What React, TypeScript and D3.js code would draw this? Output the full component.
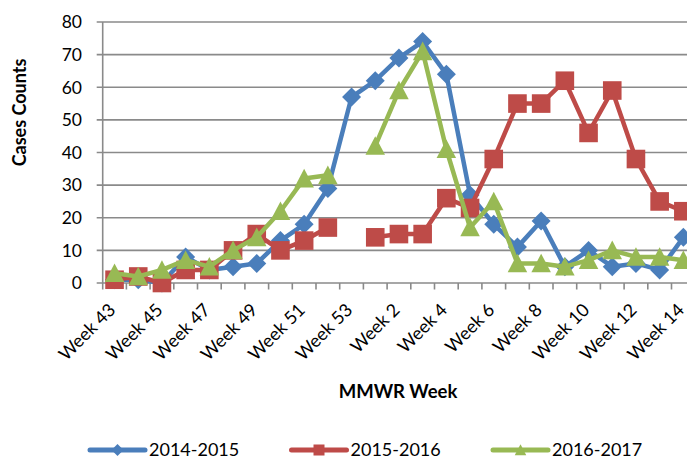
import React from "react";
import * as d3 from "d3";

const weeks: string[] = [
  "Week 43", "Week 44", "Week 45", "Week 46", "Week 47", "Week 48", "Week 49",
  "Week 50", "Week 51", "Week 52", "Week 53", "Week 1", "Week 2", "Week 3",
  "Week 4", "Week 5", "Week 6", "Week 7", "Week 8", "Week 9", "Week 10",
  "Week 11", "Week 12", "Week 13", "Week 14",
];

const season1415: (number | null)[] = [1, 1, 0, 8, 4, 5, 6, 13, 18, 29, 57, 62, 69, 74, 64, 27, 18, 11, 19, 5, 10, 5, 6, 4, 14];
const season1516: (number | null)[] = [1, 2, 0, 4, 4, 10, 15, 10, 13, 17, null, 14, 15, 15, 26, 23, 38, 55, 55, 62, 46, 59, 38, 25, 22];
const season1617: (number | null)[] = [3, 2, 4, 7, 5, 10, 14, 22, 32, 33, null, 42, 59, 71, 41, 17, 25, 6, 6, 5, 7, 10, 8, 8, 7];

const seriesNames: string[] = ["2014-2015", "2015-2016", "2016-2017"];
const yTicks: number[] = [0, 10, 20, 30, 40, 50, 60, 70, 80];

const W = 687;
const H = 460;
const FONT = "Lato, 'Noto Sans', sans-serif";
const colors = ["#4A7EBB", "#BE4B48", "#98B954"];

function marker(kind: number, cx: number, cy: number, s: number, color: string, key: string) {
  if (kind === 0) {
    const h = s;
    return (
      <path key={key} d={`M${cx},${cy - h}L${cx + h},${cy}L${cx},${cy + h}L${cx - h},${cy}Z`} fill={color} />
    );
  }
  if (kind === 1) {
    return <rect key={key} x={cx - s} y={cy - s} width={2 * s} height={2 * s} fill={color} />;
  }
  return (
    <path key={key} d={`M${cx},${cy - s * 1.05}L${cx + s * 1.05},${cy + s * 0.95}L${cx - s * 1.05},${cy + s * 0.95}Z`} fill={color} />
  );
}

export default function App() {
  const x = d3.scaleBand<string>().domain(weeks).range([102.7, 102.7 + 23.7 * weeks.length]).padding(0);
  const y = d3.scaleLinear().domain([0, 80]).range([283, 22]);
  const cx = (w: string) => (x(w) as number) + x.bandwidth() / 2;
  const allSeries = [season1415, season1516, season1617];

  const line = d3
    .line<number | null>()
    .defined((d) => d != null)
    .x((_, i) => cx(weeks[i]))
    .y((d) => y(d as number));

  return (
    <div style={{ position: "fixed", left: 0, top: 0 }}>
      <svg width={W} height={H} style={{ display: "block", background: "#fff" }}>
        {yTicks.map((t) => (
          <line key={`g${t}`} x1={96.7} x2={W} y1={y(t)} y2={y(t)} stroke="#8a8a8a" strokeWidth={1.6} />
        ))}
        <line x1={102.7} x2={102.7} y1={y(80)} y2={y(0)} stroke="#8a8a8a" strokeWidth={1.6} />
        {weeks.map((w, i) => (
          <line key={`xt${i}`} x1={x(w) as number} x2={x(w) as number} y1={y(0)} y2={y(0) + 6.5} stroke="#8a8a8a" strokeWidth={1.6} />
        ))}
        {yTicks.map((t) => (
          <text key={`yl${t}`} x={82} y={y(t)} dy="0.36em" textAnchor="end" fontFamily={FONT} fontSize={17.5} fill="#000">
            {t}
          </text>
        ))}
        {weeks.map((w, i) =>
          i % 2 === 0 ? (
            <text
              key={`xl${i}`}
              transform={`translate(${cx(w) + 2},${311}) rotate(-45)`}
              textAnchor="end"
              fontFamily={FONT}
              fontSize={18}
              fill="#000"
            >
              {w}
            </text>
          ) : null
        )}
        <text transform={`translate(26,112.5) rotate(-90)`} textAnchor="middle" fontFamily={FONT} fontWeight="bold" fontSize={18} fill="#000">
          Cases Counts
        </text>
        <text x={398} y={398} textAnchor="middle" fontFamily={FONT} fontWeight="bold" fontSize={18.5} fill="#000">
          MMWR Week
        </text>
        {allSeries.map((s, k) => (
          <g key={`s${k}`}>
            <path d={line(s) || ""} fill="none" stroke={colors[k]} strokeWidth={4.5} strokeLinejoin="round" />
            {s.map((v, i) => (v == null ? null : marker(k, cx(weeks[i]), y(v), k === 0 ? 9.5 : 9.3, colors[k], `m${k}-${i}`)))}
          </g>
        ))}
        {seriesNames.map((n, k) => {
          const lx = 90 + k * 201.5;
          const ly = 450;
          return (
            <g key={`lg${k}`}>
              <line x1={lx} x2={lx + 55} y1={ly} y2={ly} stroke={colors[k]} strokeWidth={5} strokeLinecap="round" />
              {marker(k, lx + 27.5, ly, k === 0 ? 6 : 5.5, colors[k], `lm${k}`)}
              <text x={lx + 59} y={ly} dy="0.35em" fontFamily={FONT} fontSize={18} fill="#000">
                {n}
              </text>
            </g>
          );
        })}
      </svg>
    </div>
  );
}
